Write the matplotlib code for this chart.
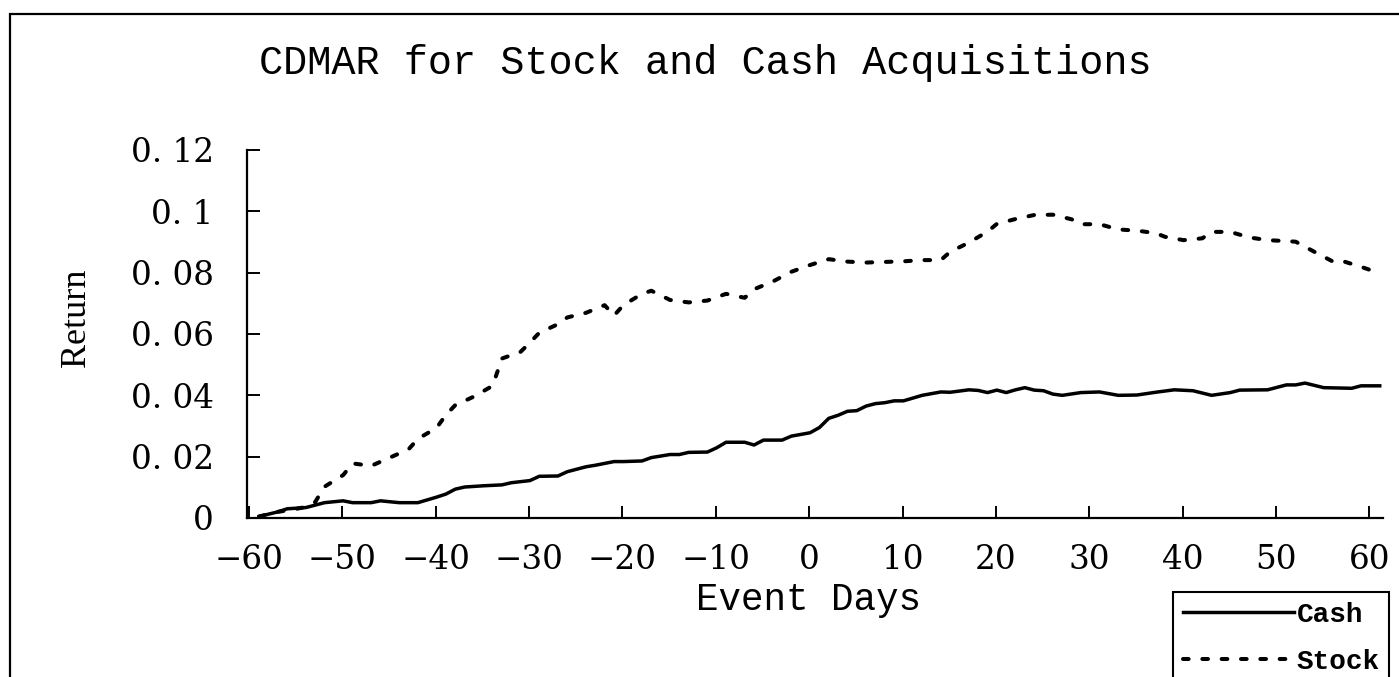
import matplotlib
matplotlib.use("Agg")
import matplotlib.pyplot as plt
from matplotlib.patches import Rectangle

# ---- data ----
cash_days = [-60, -58, -57, -55, -54, -53, -51, -50, -48, -47, -46, -45, -43, -41,
             -40, -39, -38, -36, -34, -33, -31, -30, -28, -27, -25, -24, -22, -21,
             -19, -18, -16, -15, -14, -12, -11, -10, -8, -7, -6, -4, -3, -1, 0,
             1, 2, 3, 4, 5, 6, 7, 8, 9, 10, 11, 13, 14, 16, 17, 18, 19, 20, 21,
             22, 23, 24, 25, 26, 28, 30, 32, 34, 36, 38, 40, 42, 44, 45, 48, 50,
             51, 52, 54, 57, 58, 60]
cash_vals = [0.0005, 0.0020, 0.0030, 0.0034, 0.0042, 0.0050, 0.0056, 0.0050, 0.0050,
             0.0056, 0.0053, 0.0050, 0.0050, 0.0068, 0.0078, 0.0094, 0.0101, 0.0105,
             0.0108, 0.0115, 0.0122, 0.0136, 0.0137, 0.0151, 0.0167, 0.0172, 0.0184,
             0.0184, 0.0186, 0.0197, 0.0207, 0.0207, 0.0214, 0.0215, 0.0229, 0.0247,
             0.0247, 0.0238, 0.0254, 0.0254, 0.0267, 0.0278, 0.0295, 0.0325, 0.0335,
             0.0348, 0.0350, 0.0365, 0.0373, 0.0376, 0.0382, 0.0382, 0.0391, 0.0400,
             0.0411, 0.0410, 0.0418, 0.0416, 0.0409, 0.0417, 0.0409, 0.0418, 0.0425,
             0.0417, 0.0415, 0.0404, 0.0400, 0.0409, 0.0411, 0.0400, 0.0401, 0.0410,
             0.0418, 0.0415, 0.0400, 0.0409, 0.0417, 0.0418, 0.0434, 0.0434, 0.0440,
             0.0425, 0.0423, 0.0431, 0.0431]

stock_days = [-60, -58, -56, -55, -54, -53, -51, -50, -48, -46, -44, -43, -41, -40,
              -39, -37, -35, -34, -32, -31, -30, -28, -27, -25, -23, -22, -21, -19,
              -18, -16, -14, -12, -10, -8, -7, -5, -3, -1, 1, 3, 5, 7, 9, 11, 13,
              14, 16, 18, 19, 21, 23, 25, 27, 28, 30, 32, 34, 36, 37, 39, 41, 42,
              44, 46, 48, 50, 51, 53, 55, 56, 58, 60]
stock_vals = [0.0005, 0.0020, 0.0030, 0.0036, 0.0052, 0.0102, 0.0140, 0.0178, 0.0170,
              0.0197, 0.0224, 0.0258, 0.0294, 0.0336, 0.0368, 0.0396, 0.0431, 0.0520,
              0.0542, 0.0572, 0.0604, 0.0632, 0.0654, 0.0669, 0.0694, 0.0660, 0.0694,
              0.0731, 0.0741, 0.0711, 0.0703, 0.0709, 0.0731, 0.0718, 0.0746, 0.0771,
              0.0803, 0.0825, 0.0844, 0.0836, 0.0833, 0.0835, 0.0837, 0.0841, 0.0841,
              0.0868, 0.0898, 0.0934, 0.0959, 0.0975, 0.0988, 0.0989, 0.0974, 0.0958,
              0.0958, 0.0941, 0.0937, 0.0929, 0.0917, 0.0906, 0.0912, 0.0933, 0.0933,
              0.0915, 0.0906, 0.0903, 0.0901, 0.0868, 0.0836, 0.0838, 0.0819, 0.0798]

x_tick_labels = ["\u221260", "\u221250", "\u221240", "\u221230", "\u221220", "\u221210",
                 "0", "10", "20", "30", "40", "50", "60"]
x_tick_values = [-60, -50, -40, -30, -20, -10, 0, 10, 20, 30, 40, 50, 60]
y_tick_values = [0, 0.02, 0.04, 0.06, 0.08, 0.10, 0.12]
y_tick_labels = ["0", "0. 02", "0. 04", "0. 06", "0. 08", "0. 1", "0. 12"]

title = "CDMAR for Stock and Cash Acquisitions"
xlabel = "Event Days"
ylabel = "Return"

# ---- figure ----
W, H = 1399, 677
fig = plt.figure(figsize=(W / 100, H / 100), dpi=100)
fig.patch.set_facecolor("white")

ax = fig.add_axes([247 / W, 1 - 518 / H, (1383 - 247) / W, (518 - 150) / H])
ax.plot(cash_days, cash_vals, color="black", lw=2.5, solid_joinstyle="round",
        label="Cash")
ax.plot(stock_days, stock_vals, color="black", lw=2.9, linestyle=(0, (1.4, 3.4)),
        dash_capstyle="round", label="Stock")

ax.set_xlim(-61.3, 60.35)
ax.set_ylim(0, 0.12)
tick_offset = 1.1
ax.set_xticks([v - tick_offset for v in x_tick_values], x_tick_labels)
ax.set_yticks(y_tick_values, y_tick_labels)

for s in ("top", "right"):
    ax.spines[s].set_visible(False)
for s in ("left", "bottom"):
    ax.spines[s].set_linewidth(1.6)

ax.tick_params(axis="both", direction="in", length=9, width=1.4)
ax.tick_params(axis="y", pad=24)
ax.tick_params(axis="x", pad=19)
for lab in ax.get_xticklabels() + ax.get_yticklabels():
    lab.set_fontfamily("DejaVu Serif")
    lab.set_fontsize(23.5)

fig.text(705 / W, 1 - 63 / H, title, ha="center", va="center",
         fontfamily="Liberation Mono", fontsize=29)
fig.text(808 / W, 1 - 600 / H, xlabel, ha="center", va="center",
         fontfamily="Liberation Mono", fontsize=27)
fig.text(76 / W, 1 - 318 / H, ylabel, ha="center", va="center", rotation=90,
         fontfamily="Liberation Serif", fontsize=26)

leg = fig.legend(loc="upper left", bbox_to_anchor=(1173 / W, 1 - 592 / H),
                 bbox_transform=fig.transFigure, borderaxespad=0,
                 prop={"family": "Liberation Mono", "weight": "bold", "size": 20},
                 handlelength=4.0, handletextpad=0.1, borderpad=0.35,
                 labelspacing=0.75, fancybox=False, framealpha=1)
leg.get_frame().set_edgecolor("black")
leg.get_frame().set_linewidth(1.5)

# outer chart border (extends past the right/bottom edges like the reference)
fig.add_artist(Rectangle((10 / W, -0.2), 1.3, 1 - 14 / H + 0.2, transform=fig.transFigure,
                         fill=False, edgecolor="black", lw=1.6))

fig.savefig("out.png", dpi=100)
